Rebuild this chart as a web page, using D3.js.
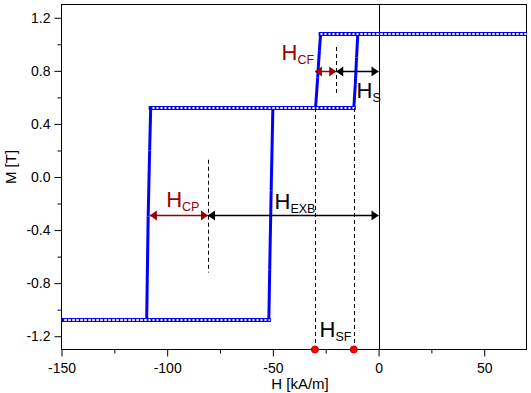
<!DOCTYPE html>
<html>
<head>
<meta charset="utf-8">
<script src="https://cdn.jsdelivr.net/npm/d3@7"></script>
<style>
  body { margin: 0; background: #fff; }
  text { font-family: "Liberation Sans", Arial, sans-serif; }
</style>
</head>
<body>
<svg width="531" height="393"></svg>
<script>
// hysteresis loop, descending and ascending branch (H in kA/m, M in T)
const descH = [70, -27.4, -28.0, -28.8, -29.8, -107.8, -108.3, -109.0, -109.7, -150]
const descM = [1.08, 1.08, 0.95, 0.75, 0.52, 0.52, 0.2, -0.3, -1.08, -1.08]
const ascH = [-150, -51.9, -51.5, -50.8, -50.0, -11.7, -11.0, -10.4, -9.8, 70]
const ascM = [-1.08, -1.08, -0.7, -0.1, 0.52, 0.52, 0.7, 0.9, 1.08, 1.08]

const xTicks = [-150, -100, -50, 0, 50]
const xMinor = [-125, -75, -25, 25]
const yTicks = [-1.2, -0.8, -0.4, 0.0, 0.4, 0.8, 1.2]
const yMinor = [-1.0, -0.6, -0.2, 0.2, 0.6, 1.0]

// annotations
const dashH = [-30.1, -11.7, -80.7, -20]
const dashTop = [0.52, 0.52, 0.13, 0.98]
const dashBottom = [-1.3, -1.3, -0.72, 0.62]
const dotH = [-30.1, -11.7]
const arrowFrom = [-108.2, -80.7, -30.1, -20]
const arrowTo = [-80.7, 0, -20, 0]
const arrowM = [-0.29, -0.29, 0.80, 0.80]
const arrowRed = [true, false, true, false]
const labelSub = ['CF', 'S', 'CP', 'EXB', 'SF']
const labelH = [-45.9, -10.4, -100.5, -49.2, -27.9]
const labelM = [0.88, 0.593, -0.224, -0.241, -1.206]
const labelRed = [true, false, true, false, false]

const svg = d3.select('svg')
const red = '#990000'
const blue = '#0000ff'

const margin = {top: 4.5, left: 61.5, right: 4.5, bottom: 43.5}
const width = +svg.attr('width')
const height = +svg.attr('height')

const x = d3.scaleLinear().domain([-150, 70]).range([margin.left, width - margin.right])
const y = d3.scaleLinear().domain([-1.3, 1.3]).range([height - margin.bottom, margin.top])

svg.append('clipPath').attr('id', 'clip')
  .append('rect')
    .attr('x', x(-150)).attr('y', y(1.3))
    .attr('width', x(70) - x(-150)).attr('height', y(-1.3) - y(1.3))

// axes
svg.append('g')
  .attr('transform', `translate(0,${y(-1.3)})`)
  .call(d3.axisBottom(x).tickValues(xTicks).tickSize(7).tickPadding(7).tickFormat(d => String(d)))
svg.append('g')
  .attr('transform', `translate(0,${y(-1.3)})`)
  .call(d3.axisBottom(x).tickValues(xMinor).tickSize(4).tickFormat(''))

svg.append('g')
  .attr('transform', `translate(${x(-150)},0)`)
  .call(d3.axisLeft(y).tickValues(yTicks).tickSize(7).tickPadding(4).tickFormat(d => d.toFixed(1)))
svg.append('g')
  .attr('transform', `translate(${x(-150)},0)`)
  .call(d3.axisLeft(y).tickValues(yMinor).tickSize(4).tickFormat(''))

svg.selectAll('.domain').remove()
svg.selectAll('.tick line').attr('stroke', '#000')
svg.selectAll('.tick text').attr('fill', '#000').style('font-size', '14px')

// frame
svg.append('rect')
  .attr('x', x(-150)).attr('y', y(1.3))
  .attr('width', x(70) - x(-150)).attr('height', y(-1.3) - y(1.3))
  .attr('fill', 'none').attr('stroke', '#000')

// axis titles
svg.append('text')
  .text('H [kA/m]')
  .attr('x', 300).attr('y', 389)
  .attr('text-anchor', 'middle')
  .style('font-size', '15px')

svg.append('text')
  .text('M [T]')
  .attr('text-anchor', 'middle')
  .attr('transform', 'translate(16,167) rotate(-90)')
  .style('font-size', '15px')

// zero line
svg.append('line')
  .attr('x1', Math.round(x(0)) + 0.5).attr('x2', Math.round(x(0)) + 0.5)
  .attr('y1', y(1.3)).attr('y2', y(-1.3))
  .attr('stroke', '#000')

// loop
const plot = svg.append('g').attr('clip-path', 'url(#clip)')
const segments = []
const addBranch = (hs, ms) => {
  for (let i = 0; i < hs.length - 1; i++) {
    segments.push({h1: hs[i], m1: ms[i], h2: hs[i + 1], m2: ms[i + 1], flat: ms[i] === ms[i + 1]})
  }
}
addBranch(descH, descM)
addBranch(ascH, ascM)

const flat = segments.filter(d => d.flat)
const steep = segments.filter(d => !d.flat)

plot.selectAll('.steep')
  .data(steep)
  .enter().append('line')
    .attr('class', 'steep')
    .attr('x1', d => x(d.h1)).attr('y1', d => y(d.m1))
    .attr('x2', d => x(d.h2)).attr('y2', d => y(d.m2))
    .attr('stroke', blue).attr('stroke-width', 3)

// plateau points drawn as a chain of small hollow circles
const left = d => Math.min(x(d.h1), x(d.h2))
const right = d => Math.max(x(d.h1), x(d.h2))
plot.selectAll('.flat')
  .data(flat)
  .enter().append('line')
    .attr('class', 'flat')
    .attr('x1', d => left(d) - 2).attr('x2', d => right(d) + 2)
    .attr('y1', d => Math.round(y(d.m1))).attr('y2', d => Math.round(y(d.m2)))
    .attr('stroke', blue).attr('stroke-width', 4)
// holes start on a common 4px grid so overlapping branches stay aligned
plot.selectAll('.hole')
  .data(flat)
  .enter().append('line')
    .attr('class', 'hole')
    .attr('x1', d => Math.ceil((left(d) - 1) / 4) * 4 + 0.5).attr('x2', d => right(d) + 1)
    .attr('y1', d => Math.round(y(d.m1))).attr('y2', d => Math.round(y(d.m2)))
    .attr('stroke', '#fff').attr('stroke-width', 2)
    .attr('stroke-dasharray', '2,2')

// dashed guides
svg.selectAll('.guide')
  .data(dashH)
  .enter().append('line')
    .attr('class', 'guide')
    .attr('x1', d => Math.round(x(d)) + 0.5).attr('x2', d => Math.round(x(d)) + 0.5)
    .attr('y1', (d, i) => y(dashTop[i])).attr('y2', (d, i) => y(dashBottom[i]))
    .attr('stroke', '#000').attr('stroke-dasharray', '4,3')

// arrows
const head = (tip, yy, dir, color) => {
  const l = 7, w = 5
  svg.append('path')
    .attr('d', `M${tip},${yy}L${tip + dir * l},${yy - w}L${tip + dir * l},${yy + w}Z`)
    .attr('fill', color)
}
arrowFrom.forEach((h, i) => {
  const color = arrowRed[i] ? red : '#000'
  const yy = Math.round(y(arrowM[i])) + 0.5
  const x1 = x(h), x2 = x(arrowTo[i])
  svg.append('line')
    .attr('x1', x1).attr('x2', x2).attr('y1', yy).attr('y2', yy)
    .attr('stroke', color).attr('stroke-width', 1.5)
  head(x1, yy, 1, color)
  head(x2, yy, -1, color)
})

// switching field dots
svg.selectAll('.dot')
  .data(dotH)
  .enter().append('circle')
    .attr('class', 'dot')
    .attr('cx', d => x(d)).attr('cy', y(-1.3))
    .attr('r', 3.5)
    .attr('fill', '#ff0000').attr('stroke', '#c00000')

// labels
labelSub.forEach((s, i) => {
  const t = svg.append('text')
    .attr('x', x(labelH[i])).attr('y', y(labelM[i]))
    .attr('fill', labelRed[i] ? red : '#000')
    .style('font-size', '22px')
  t.append('tspan').text('H')
  t.append('tspan').text(s).attr('dy', 4).style('font-size', '12.5px')
})
</script>
</body>
</html>
